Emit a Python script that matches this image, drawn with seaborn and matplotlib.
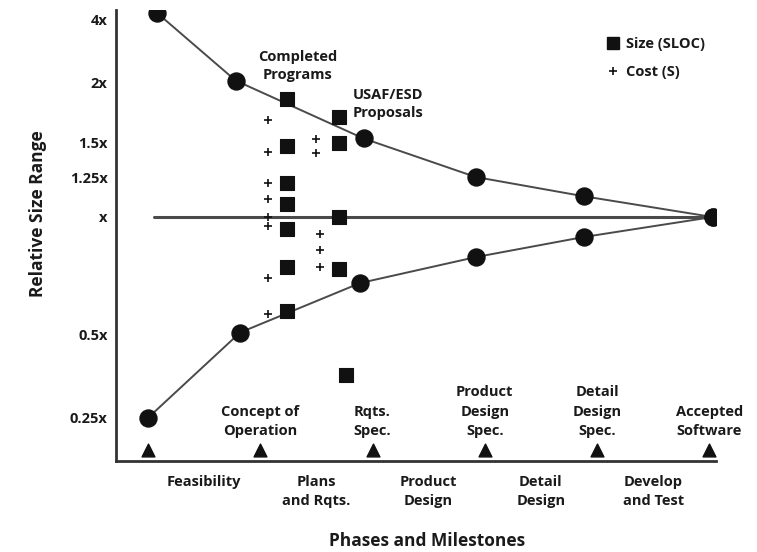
import numpy as np
import matplotlib
matplotlib.use("Agg")
import matplotlib.pyplot as plt
import matplotlib.transforms as mtransforms
from matplotlib.lines import Line2D
import seaborn as sns

# ---------------- data ----------------
tick_vals = [0.25, 0.5, 1, 1.25, 1.5, 2, 4]
tick_labels = ["0.25x", "0.5x", "x", "1.25x", "1.5x", "2x", "4x"]

milestone_x = [0, 1, 2, 3, 4, 5]
milestone_labels = ["", "Concept of\nOperation", "Rqts.\nSpec.",
                    "Product\nDesign\nSpec.", "Detail\nDesign\nSpec.",
                    "Accepted\nSoftware"]
phase_x = [0.5, 1.5, 2.5, 3.5, 4.5]
phase_labels = ["Feasibility", "Plans\nand Rqts.", "Product\nDesign",
                "Detail\nDesign", "Develop\nand Test"]

cone_upper_x = [0.08, 0.78, 1.92, 2.92, 3.88, 5.03]
cone_upper_y = [4.2, 2.05, 1.53, 1.25, 1.13, 1.0]
cone_lower_x = [0.0, 0.82, 1.89, 2.92, 3.88, 5.03]
cone_lower_y = [0.25, 0.51, 0.72, 0.83, 0.915, 1.0]

baseline_x = [0.05, 5.03]
baseline_y = [1.0, 1.0]

size_x = [1.24] * 7 + [1.70] * 4 + [1.76]
size_y = [1.86, 1.47, 1.21, 1.08, 0.95, 0.79, 0.60, 1.71, 1.49, 1.0, 0.78, 0.38]

cost_x = [1.07] * 8 + [1.50, 1.50, 1.53, 1.53, 1.53]
cost_y = [1.68, 1.43, 1.21, 1.11, 1.0, 0.96, 0.74, 0.59, 1.525, 1.42, 0.93, 0.86, 0.79]

# non-linear hand-drawn scale of the original: value -> relative position
scale_vals = [0, 0.25, 0.5, 1, 1.25, 1.5, 2, 4, 8]
scale_pos = [0, 83, 166, 284, 324, 359, 419, 482, 608]


def fwd(v):
    return np.interp(v, scale_vals, scale_pos)


def inv(p):
    return np.interp(p, scale_pos, scale_vals)


# ---------------- style ----------------
sns.set_theme(style="white")
plt.rcParams["font.family"] = ["Open Sans", "DejaVu Sans"]
TXT = "#1a1a1a"
LINE = "#4a4a4a"
FS = 10.5
W = "bold"

fig = plt.figure(figsize=(7.57, 5.52), dpi=100)
ax = fig.add_axes([116 / 757, 91 / 552, 600 / 757, 451 / 552])
ax.set_yscale("function", functions=(fwd, inv))

# cone lines
sns.lineplot(x=cone_upper_x, y=cone_upper_y, sort=False, color=LINE, lw=1.4, ax=ax)
sns.lineplot(x=cone_lower_x, y=cone_lower_y, sort=False, color=LINE, lw=1.4, ax=ax)
sns.lineplot(x=baseline_x, y=baseline_y, sort=False, color=LINE, lw=2.2, ax=ax)

# cone circles
sns.scatterplot(x=cone_upper_x, y=cone_upper_y, marker="o", s=150, color="#111111",
                edgecolor="#111111", ax=ax, zorder=5)
sns.scatterplot(x=cone_lower_x, y=cone_lower_y, marker="o", s=150, color="#111111",
                edgecolor="#111111", ax=ax, zorder=5)

# observations
sns.scatterplot(x=size_x, y=size_y, marker="s", s=95, color="#111111",
                edgecolor="#111111", ax=ax, zorder=6)
sns.scatterplot(x=cost_x, y=cost_y, marker="+", s=40, color="#111111",
                linewidth=1.2, ax=ax, zorder=6)

# milestone triangles (just above the axis)
trans = mtransforms.blended_transform_factory(ax.transData, ax.transAxes)
ax.scatter(milestone_x, [0.025] * len(milestone_x), marker="^", s=85,
           color="#111111", transform=trans, clip_on=False, zorder=6)
for mx, lab in zip(milestone_x, milestone_labels):
    if lab:
        ax.text(mx, 0.05, lab, transform=trans, ha="center", va="bottom",
                ma="center", fontsize=FS, color=TXT, linespacing=1.52,
                fontweight=W)

# annotations
ax.text(1.33, 2.51, "Completed\nPrograms", ha="center", va="center", ma="center",
        fontsize=FS, color=TXT, fontweight=W, linespacing=1.4)
ax.text(1.82, 1.82, "USAF/ESD\nProposals", ha="left", va="center", ma="left",
        fontsize=FS, color=TXT, fontweight=W, linespacing=1.35)

# axes
ax.set_xlim(-0.285, 5.06)
ax.set_ylim(0.12, 4.29)
ax.set_yticks(tick_vals)
ax.set_yticklabels(tick_labels, fontweight=W)
ax.set_xticks(phase_x)
ax.set_xticklabels(phase_labels, ma="center", linespacing=1.45, fontweight=W)
ax.tick_params(axis="both", length=0, labelsize=FS, labelcolor=TXT)
ax.tick_params(axis="y", pad=6)
ax.tick_params(axis="x", pad=10)
ax.minorticks_off()
ax.yaxis.set_minor_locator(matplotlib.ticker.NullLocator())

for side in ["top", "right"]:
    ax.spines[side].set_visible(False)
for side in ["left", "bottom"]:
    ax.spines[side].set_color("#333333")
    ax.spines[side].set_linewidth(2)

ax.set_xlabel("Phases and Milestones", fontsize=12.5, color=TXT, fontweight=W)
ax.xaxis.set_label_coords(0.518, -0.158)
ax.set_ylabel("Relative Size Range", fontsize=12.5, color=TXT, fontweight=W)
ax.yaxis.set_label_coords(-0.115, 0.548)

handles = [
    Line2D([], [], marker="s", color="#111111", ls="none", markersize=9),
    Line2D([], [], marker="+", color="#111111", ls="none", markersize=6, mew=1.2),
]
leg = ax.legend(handles, ["Size (SLOC)", "Cost (S)"], loc="upper left",
                bbox_to_anchor=(0.807, 0.952), frameon=False,
                prop={"size": FS, "weight": W},
                handlelength=0.9, handletextpad=0.45, labelspacing=0.95,
                borderaxespad=0)
for t in leg.get_texts():
    t.set_color(TXT)

fig.savefig("out.png", dpi=100, facecolor="white")
